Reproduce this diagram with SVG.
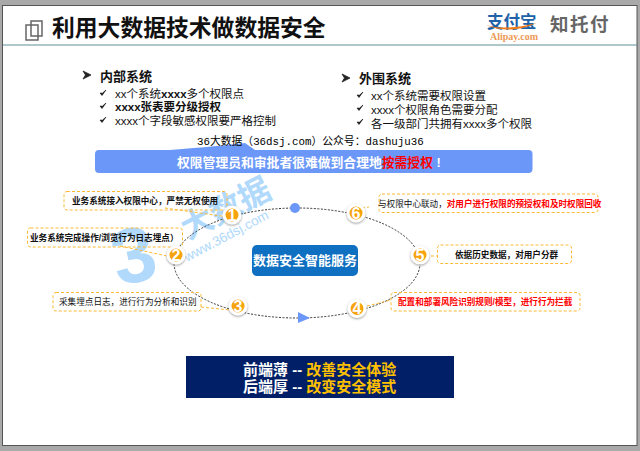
<svg xmlns="http://www.w3.org/2000/svg" width="640" height="451" viewBox="0 0 640 451">
<style>
text{font-family:"Liberation Sans","Noto Sans CJK SC",sans-serif;fill:#111}
.h{font-size:13px;font-weight:700}
.b{font-size:11.5px}
.k{font-size:8.6px;font-weight:700}
.note{fill:none;stroke:#fdb933;stroke-width:1;stroke-dasharray:3 2}
.lead{fill:none;stroke:#fdb933;stroke-width:1;stroke-dasharray:3 2}
.badge{fill:#f7a30c;stroke:#fff;stroke-width:3;filter:url(#sh)}
.num{font-size:16px;font-weight:700;fill:#fff;text-anchor:middle}
.m{font-family:"Liberation Mono","Noto Sans CJK SC",monospace;font-size:10.8px;fill:#000}
.red{fill:#f00}
.g{fill:#ffc000;font-size:15px;font-weight:700}
.w{fill:#fff;font-size:15px;font-weight:700}
.wm{fill:#b0d9fb;font-weight:700}
</style>
<defs>
<filter id="sh" x="-40%" y="-40%" width="180%" height="180%"><feDropShadow dx="0" dy="1" stdDeviation="1.2" flood-color="#555" flood-opacity=".6"/></filter>
<path id="tick" d="M0 3 L2 5.5 L6 0 L2.4 3.2Z" fill="#111" stroke="#111" stroke-width=".6"/>
<path id="arr" d="M0 0 L8 4 L0 8 L2.5 4Z" fill="#222" stroke="#222" stroke-width=".8"/>
</defs>
<rect width="640" height="451" fill="#a9a9a9"/>
<rect x="2.5" y="5.5" width="634.500" height="440" fill="#fff" stroke="#555"/>
<g id="watermark">
<text class="wm" x="0" y="0" font-size="78" transform="translate(118 286) rotate(-12)">3</text>
<text class="wm" x="0" y="0" font-size="32" transform="translate(188 240) rotate(-27)">大数据</text>
<text class="wm" x="0" y="0" font-size="13.500" transform="translate(187 262) rotate(-28)" style="font-weight:400">www.36dsj.com</text>
</g>
<g id="header">
<path d="M3 45H637" stroke="#5f8f98" stroke-width="1.2"/>
<g fill="none" stroke="#666" stroke-width="1.5"><rect x="26" y="25" width="12" height="15"/><rect x="31" y="21" width="11" height="15"/></g>
<text x="52" y="36" font-size="22.800" font-weight="700" fill="#000">利用大数据技术做数据安全</text>
</g>
<g id="logo">
<text x="487" y="28" font-size="16.500" font-weight="700" style="fill:#2061a8">支付宝</text>
<path d="M486 25Q505 31 537 23Q510 35 486 25Z" fill="#ee7a1a"/>
<text x="490" y="40" font-size="10" style="font-family:'Liberation Serif',serif;fill:#ee9a55;font-weight:700">Alipay.com</text>
<text x="550" y="31" font-size="18.500" style="fill:#666;letter-spacing:1.500px;font-weight:700;font-family:'Noto Sans CJK SC',sans-serif">知托付</text>
</g>
<g id="internal">
<use href="#arr" x="83" y="71"/>
<text class="h" x="100" y="81">内部系统</text>
<use href="#tick" x="100" y="90"/><text class="b" x="115" y="98">xx个系统<tspan font-weight="700">xxxx</tspan>多个权限点</text>
<use href="#tick" x="100" y="103"/><text class="b" x="115" y="111" font-weight="700">xxxx张表要分级授权</text>
<use href="#tick" x="100" y="117"/><text class="b" x="115" y="125">xxxx个字段敏感权限要严格控制</text>
</g>
<g id="external">
<use href="#arr" x="342" y="74"/>
<text class="h" x="359" y="83">外围系统</text>
<use href="#tick" x="357" y="92"/><text class="b" x="371" y="100">xx个系统需要权限设置</text>
<use href="#tick" x="357" y="105"/><text class="b" x="371" y="114">xxxx个权限角色需要分配</text>
<use href="#tick" x="357" y="119"/><text class="b" x="371" y="128">各一级部门共拥有xxxx多个权限</text>
</g>
<g id="banner">
<rect x="95" y="150" width="437.500" height="23" rx="4" fill="#6b98f8"/>
<path d="M170 150Q220 146 245 143L255 150Z" fill="#6b98f8"/>
<text x="177" y="167" font-size="12.800" font-weight="700" style="fill:#fff">权限管理员和审批者很难做到合理地<tspan class="red">按需授权</tspan> !</text>
</g>
<text class="m" x="197" y="145">36大数据（36dsj.com）公众号：dashuju36</text>
<g id="connectors">
<ellipse cx="297" cy="263" rx="123" ry="55" fill="none" stroke="#333" stroke-width="1" stroke-dasharray="2 1.500"/>
<path class="lead" d="M165 208L228 217M120 246L172 257M201 307L230 310M362 208L369 207M431 256L438 256M367 306L391 300"/>
</g>
<circle id="dot" cx="295" cy="208" r="5" fill="#6b98f8"/>
<path id="tri" d="M298 312L310 318L298 323Z" fill="#6b98f8"/>
<g id="center"><rect x="252" y="245" width="106" height="31" rx="5" fill="#0f6fc0"/><text x="305" y="265" text-anchor="middle" font-size="13" font-weight="700" style="fill:#fff">数据安全智能服务</text></g>
<g id="n1"><rect class="note" x="64" y="191.500" width="163" height="18.500" rx="3"/><text class="k" x="72" y="204">业务系统接入权限中心，严禁无权使用</text><circle class="badge" cx="232" cy="215" r="8"/><text class="num" x="232" y="220.500">1</text></g>
<g id="n2"><rect class="note" x="27.500" y="228" width="155" height="19" rx="3"/><text class="k" x="30" y="241">业务系统完成操作/浏览行为日志埋点）</text><circle class="badge" cx="176" cy="255" r="8"/><text class="num" x="176" y="260.500">2</text></g>
<g id="n3"><rect class="note" x="53" y="292.500" width="148" height="18.500" rx="3"/><text class="k" x="59" y="305" style="font-weight:400">采集埋点日志，进行行为分析和识别</text><circle class="badge" cx="238" cy="306" r="8"/><text class="num" x="238" y="311.500">3</text></g>
<g id="n4"><rect class="note" x="391" y="292.500" width="189" height="18.500" rx="3"/><text class="k red" x="398" y="305">配置和部署风险识别规则/模型，进行行为拦截</text><circle class="badge" cx="357" cy="308.500" r="8"/><text class="num" x="357" y="314">4</text></g>
<g id="n5"><rect class="note" x="437.500" y="245" width="134" height="18.500" rx="3"/><text class="k" x="455" y="258">依据历史数据，对用户分群</text><circle class="badge" cx="420" cy="255" r="8"/><text class="num" x="420" y="260.500">5</text></g>
<g id="n6"><rect class="note" x="379" y="194" width="219" height="18.500" rx="3"/><text class="k" x="378" y="207" style="font-weight:400">与权限中心联动，<tspan class="red" font-weight="700">对用户进行权限的预授权和及时权限回收</tspan></text><circle class="badge" cx="356" cy="213" r="8"/><text class="num" x="356" y="218.500">6</text></g>
<g id="summary"><rect x="186" y="356" width="268" height="42" fill="#001f66"/>
<text class="w" x="243" y="375">前端薄 -- <tspan class="g">改善安全体验</tspan></text>
<text class="w" x="243" y="392">后端厚 -- <tspan class="g">改变安全模式</tspan></text></g>
</svg>
